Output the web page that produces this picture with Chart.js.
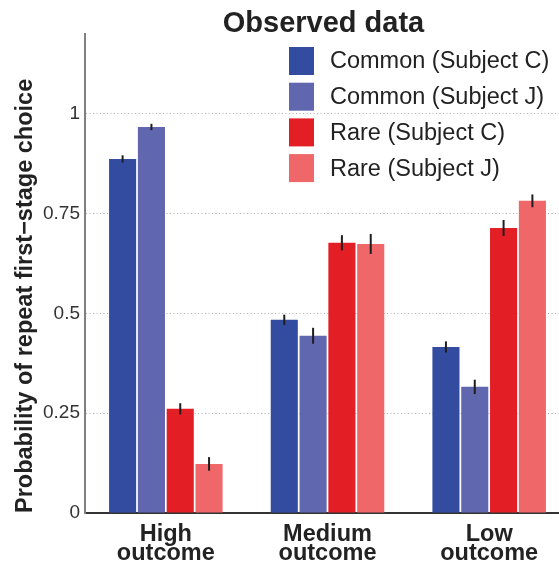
<!DOCTYPE html>
<html>
<head>
<meta charset="utf-8">
<script src="https://cdn.jsdelivr.net/npm/chart.js@4"></script>
<style>
  html, body { margin: 0; padding: 0; background: #fff; overflow: hidden; }
  #wrap { width: 570px; height: 565px; position: relative; }
</style>
</head>
<body>
<div id="wrap"><canvas id="chart"></canvas></div>
<script>
// data
const categories = [['High', 'outcome'], ['Medium', 'outcome'], ['Low', 'outcome']];
const seriesLabels = ['Common (Subject C)', 'Common (Subject J)', 'Rare (Subject C)', 'Rare (Subject J)'];
const seriesColors = ['#334c9f', '#6167af', '#e41e25', '#f06769'];
const commonC = [0.887, 0.484, 0.416];
const commonJ = [0.967, 0.444, 0.316];
const rareC = [0.261, 0.677, 0.714];
const rareJ = [0.123, 0.674, 0.782];
const errCommonC = [0.009, 0.013, 0.014];
const errCommonJ = [0.008, 0.020, 0.018];
const errRareC = [0.014, 0.019, 0.020];
const errRareJ = [0.017, 0.025, 0.016];
const yTicks = [0, 0.25, 0.5, 0.75, 1];
const yTickLabels = ['0', '0.25', '0.5', '0.75', '1'];

const values = [commonC, commonJ, rareC, rareJ];
const errors = [errCommonC, errCommonJ, errRareC, errRareJ];
const FONT = '"Liberation Sans", Arial, Helvetica, sans-serif';

// error bars
const errorBars = {
    id: 'errorBars',
    afterDatasetsDraw(chart) {
        const ctx = chart.ctx;
        const y = chart.scales.y;
        ctx.save();
        ctx.strokeStyle = '#1e1e1e';
        ctx.lineWidth = 2;
        chart.data.datasets.forEach((ds, i) => {
            chart.getDatasetMeta(i).data.forEach((bar, j) => {
                const v = ds.data[j], e = ds.err[j];
                ctx.beginPath();
                ctx.moveTo(bar.x, y.getPixelForValue(v - e));
                ctx.lineTo(bar.x, y.getPixelForValue(v + e));
                ctx.stroke();
            });
        });
        ctx.restore();
    }
};

// title centred over the plot, legend drawn inside the plot
const titleAndLegend = {
    id: 'titleAndLegend',
    afterDraw(chart) {
        const ctx = chart.ctx;
        const area = chart.chartArea;
        ctx.save();
        ctx.fillStyle = '#222';
        ctx.font = 'bold 29px ' + FONT;
        ctx.textAlign = 'center';
        ctx.textBaseline = 'alphabetic';
        ctx.fillText('Observed data', (area.left + area.right) / 2 - 4, 32);

        ctx.font = '23.5px ' + FONT;
        ctx.textAlign = 'left';
        ctx.textBaseline = 'middle';
        chart.data.datasets.forEach((ds, i) => {
            const top = 47 + i * 35.7;
            ctx.fillStyle = ds.backgroundColor;
            ctx.fillRect(289, top, 25, 28);
            ctx.fillStyle = '#222';
            ctx.fillText(ds.label, 330, top + 15);
        });
        ctx.restore();
    }
};

const datasets = seriesLabels.map((label, i) => ({
    label: label,
    data: values[i],
    err: errors[i],
    backgroundColor: seriesColors[i],
    borderWidth: 0,
    categoryPercentage: 0.713,
    barPercentage: 0.94
}));

new Chart(document.getElementById('chart'), {
    type: 'bar',
    data: { labels: categories, datasets: datasets },
    plugins: [errorBars, titleAndLegend],
    options: {
        responsive: true,
        maintainAspectRatio: false,
        animation: false,
        layout: { padding: { top: 34, right: 0, left: 0, bottom: 0 } },
        plugins: {
            legend: { display: false },
            title: { display: false },
            tooltip: { enabled: false }
        },
        scales: {
            x: {
                grid: { display: true, color: 'rgba(0,0,0,0)', drawTicks: false },
                border: { display: true, color: '#333', width: 2 },
                ticks: {
                    padding: 12,
                    color: '#222',
                    font: { family: FONT, size: 23.5, weight: 'bold', lineHeight: 0.82 }
                },
                afterFit: (scale) => { scale.height = 52; }
            },
            y: {
                min: 0,
                max: 1.2,
                afterBuildTicks: (scale) => { scale.ticks = yTicks.map(v => ({ value: v })); },
                grid: {
                    drawTicks: false,
                    color: (c) => (c.tick && c.tick.value === 0) ? 'rgba(0,0,0,0)' : '#b0b0b0',
                    lineWidth: 1
                },
                border: { display: true, color: '#808080', width: 2, dash: [1, 2.5] },
                ticks: {
                    padding: 5,
                    color: '#333',
                    font: { family: FONT, size: 19 },
                    callback: (v) => yTickLabels[yTicks.indexOf(v)]
                },
                title: {
                    display: true,
                    text: 'Probability of repeat first\u2212stage choice',
                    align: 'start',
                    color: '#222',
                    font: { family: FONT, size: 23.5, weight: 'bold' },
                    padding: { top: 11, bottom: 0 }
                },
                afterFit: (scale) => { scale.width = 85; }
            }
        }
    }
});
</script>
</body>
</html>
